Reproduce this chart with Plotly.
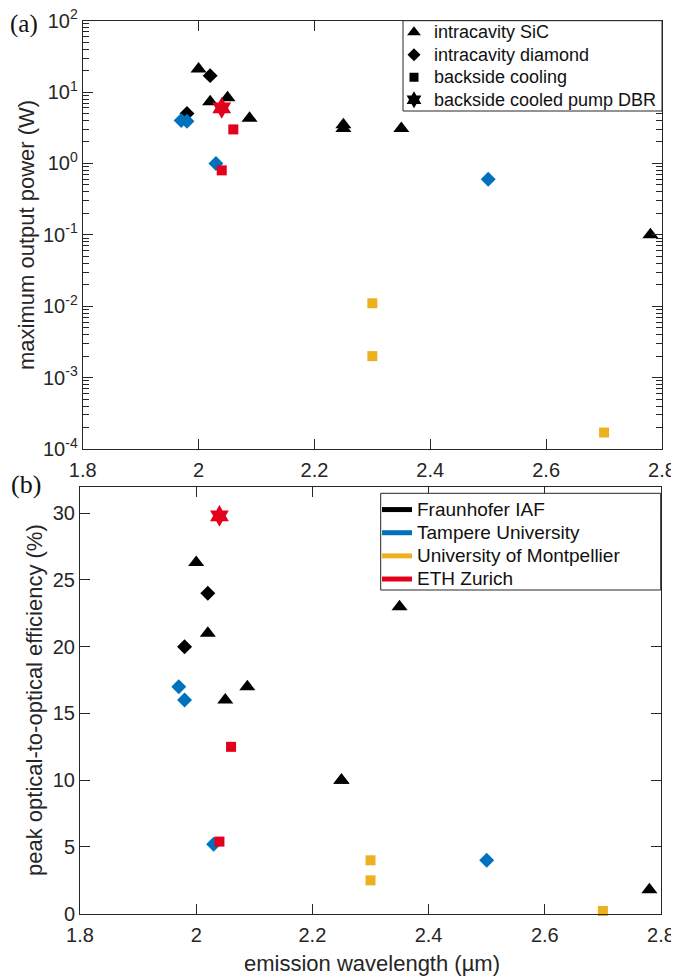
import plotly.graph_objects as go

# ---------------- data ----------------
# Fraunhofer IAF, intracavity SiC (triangles)
fh_sic_wl = [2.00, 2.02, 2.05, 2.088, 2.25, 2.25, 2.35, 2.78]
fh_sic_power = [21.0, 7.3, 8.3, 4.3, 3.5, 3.1, 3.1, 0.10]
fh_sic_eff = [26.3, 21.0, 16.0, 17.0, 10.0, 10.0, 23.0, 1.8]
# Fraunhofer IAF, intracavity diamond
fh_dia_wl = [1.98, 2.02]
fh_dia_power = [5.0, 17.0]
fh_dia_eff = [20.0, 24.0]
# Tampere University, intracavity diamond
tu_dia_wl = [1.97, 1.98, 2.03, 2.50]
tu_dia_power = [4.0, 3.9, 1.0, 0.6]
tu_dia_eff = [17.0, 16.0, 5.2, 4.0]
# University of Montpellier, backside cooling
um_sq_wl = [2.30, 2.30, 2.70]
um_sq_power = [0.011, 0.002, 0.00017]
um_sq_eff = [4.0, 2.5, 0.2]
# ETH Zurich, backside cooling
eth_sq_wl = [2.06, 2.04]
eth_sq_power = [3.0, 0.8]
eth_sq_eff = [12.5, 5.4]
# ETH Zurich, backside cooled pump DBR
eth_star_wl = [2.04]
eth_star_power = [6.0]
eth_star_eff = [29.8]

cooling_labels = ["intracavity SiC", "intracavity diamond", "backside cooling",
                  "backside cooled pump DBR"]
institution_labels = ["Fraunhofer IAF", "Tampere University",
                      "University of Montpellier", "ETH Zurich"]

x_ticks = [1.8, 2.0, 2.2, 2.4, 2.6, 2.8]
x_ticktext = ["1.8", "2", "2.2", "2.4", "2.6", "2.8"]
power_exps = [2, 1, 0, -1, -2, -3, -4]
eff_ticks = [0, 5, 10, 15, 20, 25, 30]

# ---------------- styles ----------------
BLACK = "#000000"
BLUE = "#0072BD"
YELLOW = "#EDB120"
RED = "#E3001B"
AX = "#262626"
FONT = "Liberation Sans, Arial, sans-serif"
SERIF = "Liberation Serif, Times New Roman, serif"

sym = {"tri": "triangle-up", "dia": "diamond", "sq": "square", "star": "hexagram"}
size = {"tri": 14, "dia": 11.5, "sq": 10, "star": 16.5}

series = [
    (fh_sic_wl, fh_sic_power, fh_sic_eff, "tri", BLACK),
    (fh_dia_wl, fh_dia_power, fh_dia_eff, "dia", BLACK),
    (tu_dia_wl, tu_dia_power, tu_dia_eff, "dia", BLUE),
    (um_sq_wl, um_sq_power, um_sq_eff, "sq", YELLOW),
    (eth_sq_wl, eth_sq_power, eth_sq_eff, "sq", RED),
    (eth_star_wl, eth_star_power, eth_star_eff, "star", RED),
]

fig = go.Figure()
for wl, pw, ef, s, c in series:
    mk = dict(symbol=sym[s], size=size[s], color=c, line=dict(width=0))
    fig.add_trace(go.Scatter(x=wl, y=pw, mode="markers", marker=mk,
                             xaxis="x", yaxis="y", showlegend=False,
                             cliponaxis=False))
    fig.add_trace(go.Scatter(x=wl, y=ef, mode="markers", marker=mk,
                             xaxis="x2", yaxis="y2", showlegend=False,
                             cliponaxis=False))

def big(txt, fs):
    return '<span style="font-size:%spx">%s</span>' % (fs, txt)

# legend (a): marker shapes
leg_size = {"tri": 12, "dia": 10, "sq": 9, "star": 13}
for lab, s in zip(cooling_labels, ["tri", "dia", "sq", "star"]):
    fig.add_trace(go.Scatter(x=[None], y=[None], mode="markers", name=big(lab, 18),
                             marker=dict(symbol=sym[s], size=leg_size[s],
                                         color=BLACK, line=dict(width=0)),
                             xaxis="x", yaxis="y", legend="legend"))
# legend (b): institution colours
for lab, c in zip(institution_labels, [BLACK, BLUE, YELLOW, RED]):
    fig.add_trace(go.Scatter(x=[None], y=[None], mode="lines", name=big(lab, 19),
                             line=dict(color=c, width=5),
                             xaxis="x2", yaxis="y2", legend="legend2"))

# the page has an 8 px body margin, so the figure starts at (8, 8)
OFF = 8
W, H = 679 - OFF, 977 - OFF
def px(x):
    return (x - OFF) / W
def py(y):
    return (H - (y - OFF)) / H

minor_vals = [k * 10.0 ** e for e in range(-4, 2) for k in range(2, 10)]

common_axis = dict(showline=True, linecolor=AX, linewidth=1, mirror="allticks",
                   ticks="inside", tickcolor=AX, showgrid=False, zeroline=False,
                   automargin=False, ticklabeloverflow="allow",
                   tickfont=dict(family=FONT, size=20, color=AX))

# opaque legend boxes (MATLAB style), drawn behind the legend text
legend_boxes = [
    dict(type="rect", xref="paper", yref="paper", layer="above",
         x0=px(403), x1=px(662), y0=py(111), y1=py(20.7),
         fillcolor="white", line=dict(color=AX, width=1)),
    dict(type="rect", xref="paper", yref="paper", layer="above",
         x0=px(380.7), x1=px(660.7), y0=py(590), y1=py(493.3),
         fillcolor="white", line=dict(color=AX, width=1)),
]

fig.update_layout(
    width=W, height=H,
    margin=dict(l=0, r=0, t=0, b=0, pad=0, autoexpand=False),
    paper_bgcolor="white", plot_bgcolor="white",
    font=dict(family=FONT, color=AX),
    xaxis=dict(common_axis, domain=[px(82.7), px(662)], anchor="y",
               range=[1.8, 2.8], tickvals=x_ticks, ticktext=x_ticktext, ticklen=10,
               ticklabelstandoff=3),
    yaxis=dict(common_axis, domain=[py(449), py(20.7)], anchor="x", type="log",
               range=[-4, 2], tickvals=[10.0 ** e for e in power_exps],
               ticktext=["10<sup>%d</sup>" % e for e in power_exps], ticklen=10,
               minor=dict(ticks="inside", ticklen=6, tickcolor=AX,
                          tickvals=minor_vals)),
    xaxis2=dict(common_axis, domain=[px(80), px(661)], anchor="y2",
                range=[1.8, 2.8], tickvals=x_ticks, ticktext=x_ticktext, ticklen=10,
                ticklabelstandoff=3),
    yaxis2=dict(common_axis, domain=[py(913.7), py(486.5)], anchor="x2",
                range=[0, 32], tickvals=eff_ticks, ticklen=10),
    shapes=legend_boxes,
    legend=dict(x=px(394), y=py(16), xanchor="left", yanchor="top",
                bgcolor="rgba(0,0,0,0)", borderwidth=0,
                font=dict(family=FONT, size=15, color="#111111"),
                tracegroupgap=0, itemwidth=30),
    legend2=dict(x=px(377), y=py(493), xanchor="left", yanchor="top",
                 bgcolor="rgba(0,0,0,0)", borderwidth=0,
                 font=dict(family=FONT, size=15.5, color="#111111"),
                 tracegroupgap=0, itemwidth=30),
    annotations=[
        dict(text="maximum output power (W)", x=px(26), y=py(235), xref="paper",
             yref="paper", textangle=-90, showarrow=False,
             xanchor="center", yanchor="middle",
             font=dict(family=FONT, size=22, color=AX)),
        dict(text="peak optical-to-optical efficiency (%)", x=px(34), y=py(700),
             xref="paper", yref="paper", textangle=-90, showarrow=False,
             xanchor="center", yanchor="middle",
             font=dict(family=FONT, size=22, color=AX)),
        dict(text="emission wavelength (µm)", x=px(372), y=py(963), xref="paper",
             yref="paper", showarrow=False, xanchor="center", yanchor="middle",
             font=dict(family=FONT, size=22, color=AX)),
        dict(text="(a)", x=px(24), y=py(24), xref="paper", yref="paper",
             showarrow=False, xanchor="center", yanchor="middle",
             font=dict(family=SERIF, size=25, color="#111111")),
        dict(text="(b)", x=px(26), y=py(484), xref="paper", yref="paper",
             showarrow=False, xanchor="center", yanchor="middle",
             font=dict(family=SERIF, size=26, color="#111111")),
    ],
)

fig.write_html("out.html")
